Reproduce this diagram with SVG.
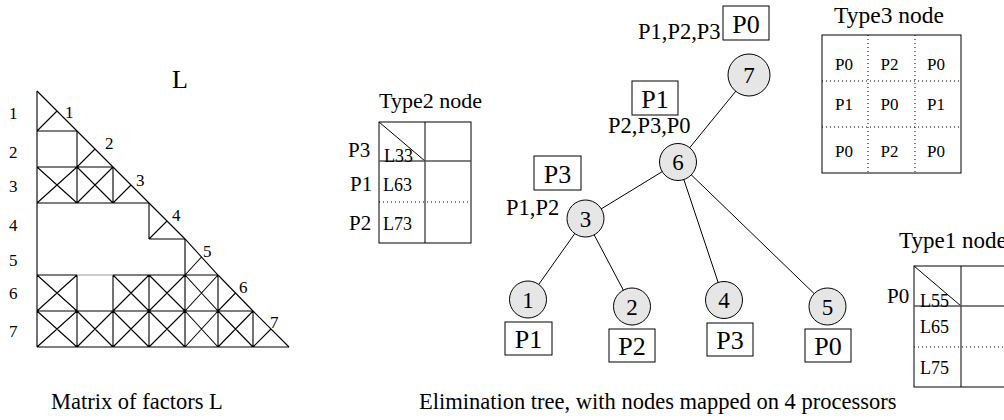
<svg xmlns="http://www.w3.org/2000/svg" width="1004" height="420" viewBox="0 0 1004 420" font-family="'Liberation Serif', 'Times New Roman', serif">
<style>
text{font-family:'Liberation Serif','Times New Roman',serif;fill:#000}
.m{stroke:#000;stroke-width:1.1;fill:none}
.lab{font-size:17px}
.big{font-size:26px}
.cap{font-size:22.5px}
.tl{font-size:22.5px}
.bx{font-size:26px;text-anchor:middle}
.nd{font-size:23px;text-anchor:middle}
.cell{font-size:18px}
.side{font-size:21px}
.c3{font-size:17px;text-anchor:middle}
.box{fill:#fff;stroke:#000;stroke-width:1}
.node{fill:#e6e6e6;stroke:#000;stroke-width:1}
.edge{stroke:#000;stroke-width:1}
.dot{stroke:#000;stroke-width:1;stroke-dasharray:1 3}
.sol{stroke:#000;stroke-width:1;fill:none}
.mid{stroke:#555;stroke-width:1.6}
</style>
<g id="matrix">
<text class="big" x="172" y="88">L</text>
<g class="lab">
<text x="9" y="119">1</text><text x="9" y="158">2</text><text x="9" y="192">3</text><text x="9" y="231">4</text><text x="9" y="266">5</text><text x="9" y="299">6</text><text x="9" y="337">7</text>
<text x="65" y="118">1</text><text x="105" y="149">2</text><text x="136" y="186">3</text><text x="172" y="221">4</text><text x="203" y="257">5</text><text x="239" y="293">6</text><text x="270" y="328">7</text>
</g>
<polyline class="m" points="37,91 77,131 113,167 149,203 185,239 218,275 253,311 289,347"/>
<path class="m" d="M37,91V347M37,131H77M37,167H113M37,203H149M149,239H185M37,275H77M113,275H218M37,311H253M37,347H289
M77,131V203M77,275V347M113,167V203M113,275V347M149,203V239M149,275V347M185,239V347M218,275V347M253,311V347
M37,131L57,111M77,167L95,149M113,203L131,185M149,239L167,221M185,275L201.5,257M218,311L235.5,293M253,347L271,329
M37,167L77,203M77,167L37,203M77,167L113,203M113,167L77,203
M37,275L77,311M77,275L37,311M113,275L149,311M149,275L113,311M149,275L185,311M185,275L149,311M185,275L218,311M218,275L185,311
M37,311L77,347M77,311L37,347M77,311L113,347M113,311L77,347M113,311L149,347M149,311L113,347M149,311L185,347M185,311L149,347M185,311L218,347M218,311L185,347M218,311L253,347M253,311L218,347"/>
<path d="M77,275H113" stroke="#999" stroke-width="1.1"/>
<text class="cap" x="51" y="409">Matrix of factors L</text>
</g>
<g id="type2">
<text class="tl" x="379" y="108" style="font-size:22px">Type2 node</text>
<rect class="sol" x="379" y="122" width="92" height="121"/>
<line class="sol" x1="425" y1="122" x2="425" y2="243"/>
<line class="sol" x1="379" y1="122" x2="425" y2="161"/>
<line class="mid" x1="379" y1="161" x2="471" y2="161"/>
<line class="dot" x1="379" y1="202" x2="471" y2="202"/>
<text class="side" x="348" y="157">P3</text><text class="side" x="350" y="191">P1</text><text class="side" x="349" y="230">P2</text>
<text class="cell" x="384" y="162">L33</text><text class="cell" x="383" y="191">L63</text><text class="cell" x="383" y="230">L73</text>
</g>
<g id="type3">
<text class="tl" x="834" y="23" style="font-size:23.5px">Type3 node</text>
<rect class="sol" x="822" y="35" width="139" height="138"/>
<line class="dot" x1="868" y1="35" x2="868" y2="173"/>
<line class="dot" x1="915" y1="35" x2="915" y2="173"/>
<line class="dot" x1="822" y1="81" x2="961" y2="81"/>
<line class="dot" x1="822" y1="127" x2="961" y2="127"/>
<text class="c3" x="844" y="70">P0</text><text class="c3" x="889.5" y="70">P2</text><text class="c3" x="936" y="70">P0</text>
<text class="c3" x="844" y="110">P1</text><text class="c3" x="889.5" y="110">P0</text><text class="c3" x="936" y="110">P1</text>
<text class="c3" x="844" y="156.5">P0</text><text class="c3" x="889.5" y="156.5">P2</text><text class="c3" x="936" y="156.5">P0</text>
</g>
<g id="type1">
<text class="tl" x="899" y="248" style="font-size:23px">Type1 node</text>
<rect class="sol" x="914" y="266" width="100" height="121"/>
<line class="sol" x1="961" y1="266" x2="961" y2="387"/>
<line class="sol" x1="914" y1="266" x2="961" y2="306"/>
<line class="mid" x1="914" y1="306" x2="1004" y2="306"/>
<line class="dot" x1="914" y1="347" x2="1004" y2="347"/>
<text class="side" x="887" y="303">P0</text>
<text class="cell" x="920" y="307">L55</text><text class="cell" x="920" y="333">L65</text><text class="cell" x="920" y="374">L75</text>
</g>
<g id="connectors">
<line class="edge" x1="749" y1="75" x2="678" y2="162"/>
<line class="edge" x1="678" y1="162" x2="585.5" y2="218.5"/>
<line class="edge" x1="678" y1="162" x2="724" y2="300"/>
<line class="edge" x1="678" y1="162" x2="827.5" y2="306.5"/>
<line class="edge" x1="585.5" y1="218.5" x2="528" y2="299.5"/>
<line class="edge" x1="585.5" y1="218.5" x2="632" y2="306.5"/>
</g>
<g id="node7"><circle class="node" cx="749" cy="75" r="21"/><text class="nd" x="749" y="83">7</text>
<text class="tl" x="638" y="39">P1,P2,P3</text><rect class="box" x="723" y="6" width="46" height="34"/><text class="bx" x="746" y="33">P0</text></g>
<g id="node6"><circle class="node" cx="678" cy="162" r="18.5"/><text class="nd" x="678" y="170">6</text>
<rect class="box" x="632" y="81" width="46" height="34"/><text class="bx" x="655" y="108">P1</text><text class="tl" x="608" y="133">P2,P3,P0</text></g>
<g id="node3"><circle class="node" cx="585.5" cy="218.5" r="18.5"/><text class="nd" x="585.5" y="226.5">3</text>
<rect class="box" x="534" y="156" width="47" height="34"/><text class="bx" x="557.5" y="183">P3</text><text class="tl" x="506" y="215">P1,P2</text></g>
<g id="node1"><circle class="node" cx="528" cy="299.5" r="18.5"/><text class="nd" x="528" y="307.5">1</text>
<rect class="box" x="505" y="322" width="47" height="33"/><text class="bx" x="528.5" y="348">P1</text></g>
<g id="node2"><circle class="node" cx="632" cy="306.5" r="18.5"/><text class="nd" x="632" y="314.5">2</text>
<rect class="box" x="609" y="329" width="46" height="33"/><text class="bx" x="632" y="355">P2</text></g>
<g id="node4"><circle class="node" cx="724" cy="300" r="18.5"/><text class="nd" x="724" y="308">4</text>
<rect class="box" x="707" y="323" width="46" height="33"/><text class="bx" x="730" y="349">P3</text></g>
<g id="node5"><circle class="node" cx="827.5" cy="306.5" r="18.5"/><text class="nd" x="827.5" y="314.5">5</text>
<rect class="box" x="805" y="329" width="46" height="33"/><text class="bx" x="828" y="355">P0</text></g>
<text class="cap" x="419" y="409">Elimination tree, with nodes mapped on 4 processors</text>
</svg>
